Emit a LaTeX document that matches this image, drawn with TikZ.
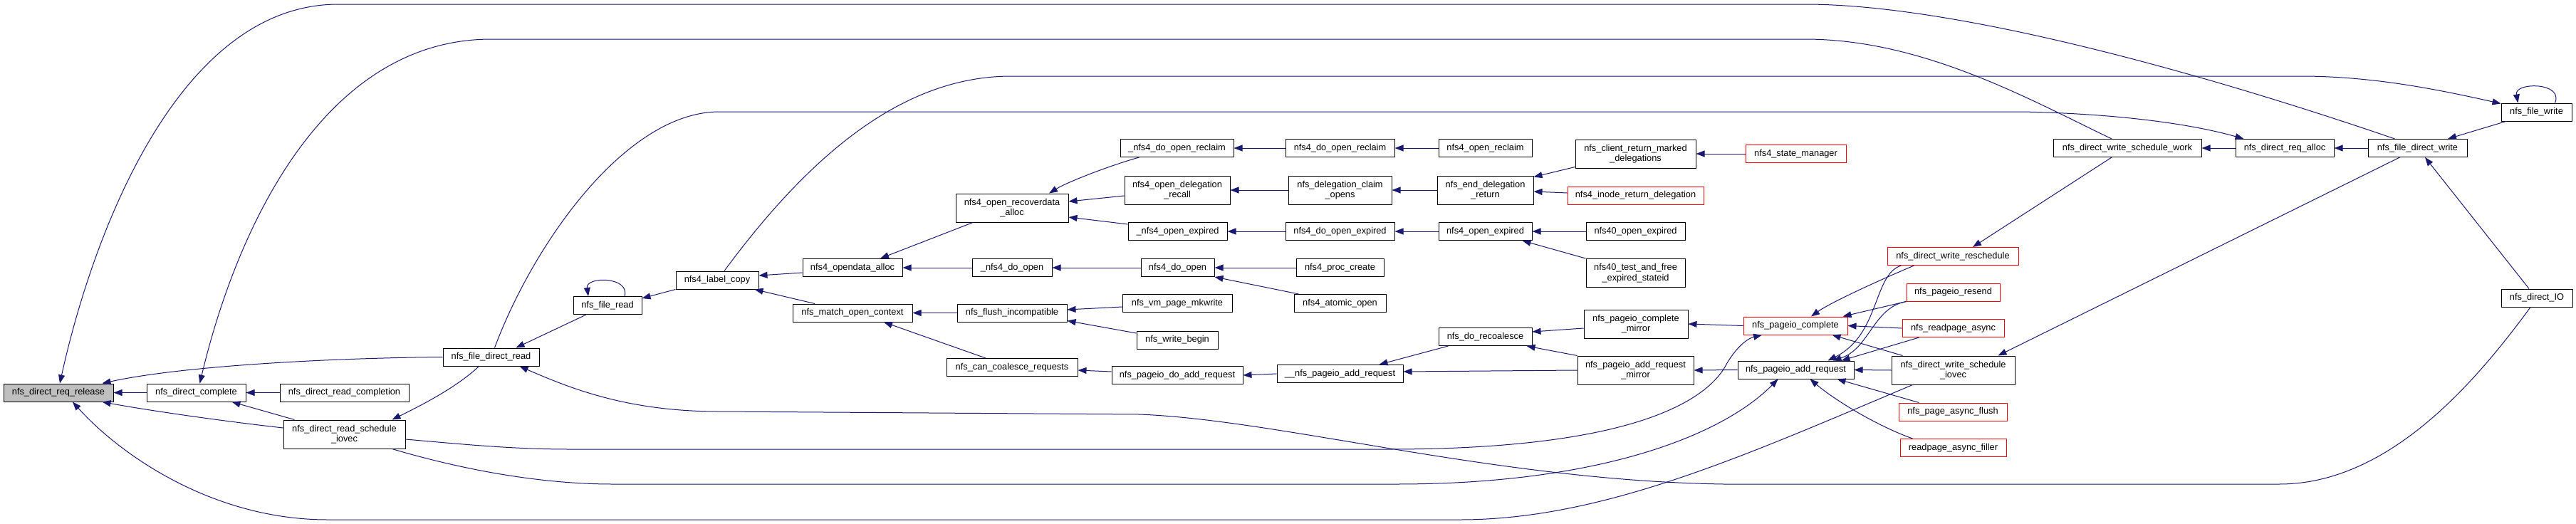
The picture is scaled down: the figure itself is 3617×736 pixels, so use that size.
\documentclass[tikz,border=0pt]{standalone}
\usepackage{fontspec}
\setmainfont{Liberation Sans}
\usetikzlibrary{arrows.meta}
\definecolor{edgeblue}{RGB}{25,25,112}
\definecolor{rootgray}{RGB}{191,191,191}
\newcommand\nodefnt{\fontsize{12.8}{14.5}\selectfont}
\tikzset{
  nd/.style={draw=black, line width=1pt, fill=white, inner sep=0pt, minimum height=25pt, align=center, font=\nodefnt},
  two/.style={minimum height=40pt},
  trunc/.style={draw=red},
  edg/.style={draw=edgeblue, line width=1pt, -{Triangle[length=12pt,width=9pt]}},
}
\begin{document}
\begin{tikzpicture}[x=1pt,y=-1pt]
\useasboundingbox[fill=white] (0,0) rectangle (3617,736);
% nodes
\node[nd, minimum width=154pt, fill=rootgray] (rel) at (82,551.5) {nfs\_direct\_req\_release};
\node[nd, minimum width=139pt] (comp) at (275.5,551.5) {nfs\_direct\_complete};
\node[nd, minimum width=181pt] (rcomp) at (483.5,551.5) {nfs\_direct\_read\_completion};
\node[nd, two, minimum width=171pt] (rsched) at (483.5,610) {nfs\_direct\_read\_schedule\\\_iovec};
\node[nd, minimum width=135pt] (fdr) at (689.5,501.5) {nfs\_file\_direct\_read};
\node[nd, minimum width=96pt] (fread) at (853,429) {nfs\_file\_read};
\node[nd, minimum width=116pt] (lcopy) at (1007,393.5) {nfs4\_label\_copy};
\node[nd, minimum width=140pt] (odalloc) at (1197,376) {nfs4\_opendata\_alloc};
\node[nd, minimum width=168pt] (moc) at (1197,439.5) {nfs\_match\_open\_context};
\node[nd, two, minimum width=158pt] (recov) at (1421,292) {nfs4\_open\_recoverdata\\\_alloc};
\node[nd, minimum width=112pt] (ndo) at (1421,376) {\_nfs4\_do\_open};
\node[nd, minimum width=154pt] (flush) at (1421,439.5) {nfs\_flush\_incompatible};
\node[nd, minimum width=184pt] (coal) at (1421,516) {nfs\_can\_coalesce\_requests};
\node[nd, minimum width=159pt] (ndor) at (1652.5,208) {\_nfs4\_do\_open\_reclaim};
\node[nd, two, minimum width=148pt] (odr) at (1653,267) {nfs4\_open\_delegation\\\_recall};
\node[nd, minimum width=139pt] (noe) at (1653.5,325) {\_nfs4\_open\_expired};
\node[nd, minimum width=103pt] (n4do) at (1653.5,376) {nfs4\_do\_open};
\node[nd, minimum width=154pt] (mkw) at (1653,426) {nfs\_vm\_page\_mkwrite};
\node[nd, minimum width=114pt] (wbeg) at (1653,477.5) {nfs\_write\_begin};
\node[nd, minimum width=184pt] (pdar) at (1653,527) {nfs\_pageio\_do\_add\_request};
\node[nd, minimum width=153pt] (n4dor) at (1881.5,208) {nfs4\_do\_open\_reclaim};
\node[nd, two, minimum width=145pt] (dco) at (1881.5,267) {nfs\_delegation\_claim\\\_opens};
\node[nd, minimum width=153pt] (n4doe) at (1881.5,325) {nfs4\_do\_open\_expired};
\node[nd, minimum width=123pt] (pc) at (1881.5,376) {nfs4\_proc\_create};
\node[nd, minimum width=129pt] (ao) at (1881.5,426) {nfs4\_atomic\_open};
\node[nd, minimum width=177pt] (npar) at (1881.5,525) {\_\_nfs\_pageio\_add\_request};
\node[nd, minimum width=131pt] (n4or) at (2085.5,208) {nfs4\_open\_reclaim};
\node[nd, two, minimum width=135pt] (edr) at (2085.5,267) {nfs\_end\_delegation\\\_return};
\node[nd, minimum width=131pt] (n4oe) at (2085.5,325) {nfs4\_open\_expired};
\node[nd, minimum width=131pt] (drc) at (2085.5,473) {nfs\_do\_recoalesce};
\node[nd, two, minimum width=169pt] (crmd) at (2296.5,216) {nfs\_client\_return\_marked\\\_delegations};
\node[nd, trunc, minimum width=191pt] (ird) at (2296.5,274.5) {nfs4\_inode\_return\_delegation};
\node[nd, minimum width=139pt] (n40oe) at (2296.5,325) {nfs40\_open\_expired};
\node[nd, two, minimum width=139pt] (tfes) at (2296.5,383.5) {nfs40\_test\_and\_free\\\_expired\_stateid};
\node[nd, two, minimum width=146pt] (pcm) at (2297,455) {nfs\_pageio\_complete\\\_mirror};
\node[nd, two, minimum width=163pt] (parm) at (2296.5,520) {nfs\_pageio\_add\_request\\\_mirror};
\node[nd, trunc, minimum width=141pt] (sm) at (2521.5,216) {nfs4\_state\_manager};
\node[nd, trunc, minimum width=146pt] (pcomp) at (2521,457.5) {nfs\_pageio\_complete};
\node[nd, minimum width=163pt] (padd) at (2521.5,519.5) {nfs\_pageio\_add\_request};
\node[nd, minimum width=208pt] (wsw) at (2987,208) {nfs\_direct\_write\_schedule\_work};
\node[nd, trunc, minimum width=184pt] (wrs) at (2742,360) {nfs\_direct\_write\_reschedule};
\node[nd, trunc, minimum width=131pt] (resend) at (2742.5,410.5) {nfs\_pageio\_resend};
\node[nd, trunc, minimum width=143pt] (rpa) at (2742.5,461) {nfs\_readpage\_async};
\node[nd, two, minimum width=173pt] (wsi) at (2742.5,520) {nfs\_direct\_write\_schedule\\\_iovec};
\node[nd, trunc, minimum width=152pt] (paf) at (2742,578.5) {nfs\_page\_async\_flush};
\node[nd, trunc, minimum width=149pt] (raf) at (2742.5,629) {readpage\_async\_filler};
\node[nd, minimum width=138pt] (alloc) at (3208,208) {nfs\_direct\_req\_alloc};
\node[nd, minimum width=139pt] (fdw) at (3394.5,208) {nfs\_file\_direct\_write};
\node[nd, minimum width=99pt] (fwrite) at (3561.5,157.5) {nfs\_file\_write};
\node[nd, minimum width=100pt] (dio) at (3562,418.5) {nfs\_direct\_IO};
% long edges
\draw[edg] ([xshift=-32pt]fdw.north) .. controls (3100,105) and (2750,6) .. (2534,6) -- (475,6) .. controls (250,6) and (130,330) .. ([xshift=2pt]rel.north);
\draw[edg] ([xshift=-22pt]wsw.north) .. controls (2850,140) and (2700,55) .. (2534,55) -- (690,55) .. controls (450,55) and (330,330) .. ([xshift=5pt]comp.north);
\draw[edg] ([xshift=10pt]lcopy.north) .. controls (1150,200) and (1280,107) .. (1420,107) -- (3230,107) .. controls (3330,107) and (3420,125) .. ([yshift=-1pt]fwrite.north west);
\draw[edg] ([xshift=5pt]fdr.north) .. controls (750,340) and (880,157) .. (1010,157) -- (2840,157) .. controls (2980,160) and (3080,175) .. ([xshift=12pt]alloc.north west);
\draw[edg] ([xshift=-9pt]dio.south) .. controls (3470,545) and (3350,680) .. (3200,680) -- (2420,680) .. controls (2100,675) and (1800,590) .. (1600,582) -- (1010,578) .. controls (880,578) and (800,545) .. ([xshift=40pt]fdr.south);
\draw[edg] ([yshift=-7pt]rsched.east) .. controls (650,624) and (720,631) .. (800,631) -- (1950,631) .. controls (2300,631) and (2400,560) .. (2425,510) .. controls (2440,485) and (2455,475) .. ([xshift=-47pt]pcomp.south);
\draw[edg] ([xshift=67pt]rsched.south) .. controls (650,660) and (760,680) .. (860,680) -- (1960,680) .. controls (2250,680) and (2420,610) .. ([xshift=-25pt]padd.south);
\draw[edg] ([xshift=30pt]wsi.south west) .. controls (2450,640) and (2250,730) .. (2050,730) -- (460,730) .. controls (300,730) and (170,640) .. ([xshift=20pt]rel.south);
\draw[edg] ([xshift=-25pt]fdw.south) -- ([xshift=63pt]wsi.north);
% self loops
\draw[edg] ([xshift=24pt]fread.north) .. controls (885,388) and (822,388) .. ([xshift=-27pt]fread.north);
\draw[edg] ([xshift=26pt]fwrite.north) .. controls (3600,115) and (3530,115) .. ([xshift=-26pt]fwrite.north);
% left part
\draw[edg] (fdr.west) .. controls (450,503) and (250,515) .. ([xshift=-16pt]rel.north east);
\draw[edg] (comp.west) -- (rel.east);
\draw[edg] ([yshift=9pt]rsched.west) .. controls (300,590) and (200,575) .. ([xshift=-16pt]rel.south east);
\draw[edg] (rcomp.west) -- (comp.east);
\draw[edg] ([xshift=-70pt]rsched.north) -- ([xshift=50pt]comp.south);
\draw[edg] ([xshift=-17pt]fdr.south) .. controls (640,545) and (590,570) .. ([xshift=67pt]rsched.north);
\draw[edg] ([xshift=-30pt]fread.south) -- ([xshift=35pt]fdr.north);
\draw[edg] (lcopy.south west) -- ([yshift=-3pt]fread.north east);
\draw[edg] ([yshift=-7pt]odalloc.west) -- ([yshift=6.5pt]lcopy.east);
\draw[edg] ([xshift=-53pt]moc.north) -- ([xshift=-6pt]lcopy.south east);
\draw[edg] ([xshift=-55pt]recov.south) -- ([xshift=39pt]odalloc.north);
\draw[edg] (ndo.west) -- (odalloc.east);
\draw[edg] (flush.west) -- (moc.east);
\draw[edg] ([xshift=-37pt]coal.north) -- ([xshift=44pt]moc.south);
\draw[edg] ([xshift=27pt]ndor.south west) .. controls (1560,232) and (1500,255) .. ([xshift=52pt]recov.north);
\draw[edg] ([yshift=-8pt]odr.west) -- ([yshift=9pt]recov.east);
\draw[edg] ([yshift=10pt]noe.west) -- ([yshift=-13pt]recov.east);
\draw[edg] (n4do.west) -- (ndo.east);
\draw[edg] ([yshift=-5pt]mkw.west) -- ([yshift=4.5pt]flush.east);
\draw[edg] ([yshift=9.5pt]wbeg.west) -- ([yshift=-11pt]flush.east);
\draw[edg] ([yshift=5pt]pdar.west) -- ([yshift=-4pt]coal.east);
% middle
\draw[edg] (n4dor.west) -- (ndor.east);
\draw[edg] (n4or.west) -- (n4dor.east);
\draw[edg] (dco.west) -- (odr.east);
\draw[edg] (edr.west) -- (dco.east);
\draw[edg] ([yshift=2pt]crmd.south west) -- ([yshift=-2pt]edr.north east);
\draw[edg] ([yshift=3.5pt]ird.west) -- ([yshift=-2pt]edr.east);
\draw[edg] (sm.west) -- (crmd.east);
\draw[edg] (n4doe.west) -- (noe.east);
\draw[edg] (n4oe.west) -- (n4doe.east);
\draw[edg] (n40oe.west) -- (n4oe.east);
\draw[edg] (tfes.north west) -- ([xshift=-14pt]n4oe.south east);
\draw[edg] (pc.west) -- (n4do.east);
\draw[edg] ([xshift=7pt]ao.north west) -- (n4do.south east);
\draw[edg] (npar.west) -- (pdar.east);
\draw[edg] ([xshift=14pt]drc.south west) -- ([xshift=55pt]npar.north);
\draw[edg] (parm.west) -- ([yshift=3pt]npar.east);
\draw[edg] ([yshift=-6pt]pcm.west) -- ([yshift=7pt]drc.east);
\draw[edg] (parm.north west) -- ([xshift=-8pt]drc.south east);
\draw[edg] (pcomp.west) -- (pcm.east);
\draw[edg] (padd.west) -- (parm.east);
% right part
\draw[edg] (alloc.west) -- (wsw.east);
\draw[edg] (fdw.west) -- (alloc.east);
\draw[edg] ([xshift=7pt]fwrite.south west) -- ([xshift=42.5pt]fdw.north);
\draw[edg] ([xshift=-11pt]dio.north) -- ([xshift=10.5pt]fdw.south);
\draw[edg] ([xshift=-22pt]wsw.south) -- ([xshift=28pt]wrs.north);
\draw[edg] ([xshift=38pt]wrs.south west) .. controls (2640,393) and (2570,425) .. ([xshift=22pt]pcomp.north);
\draw[edg] (resend.south west) -- ([xshift=-7pt]pcomp.north east);
\draw[edg] (rpa.west) -- (pcomp.east);
\draw[edg] ([xshift=16pt]wsi.north west) -- ([xshift=-22pt]pcomp.south east);
\draw[edg] ([xshift=20pt]wrs.south west) .. controls (2630,385) and (2640,470) .. ([xshift=45pt]padd.north);
\draw[edg] (resend.south west) .. controls (2630,432) and (2625,490) .. ([xshift=52pt]padd.north);
\draw[edg] ([xshift=24pt]rpa.south west) -- ([xshift=-18pt]padd.north east);
\draw[edg] (wsi.west) -- (padd.east);
\draw[edg] ([xshift=29pt]paf.north west) -- ([xshift=-24pt]padd.south east);
\draw[edg] ([xshift=18pt]raf.north west) .. controls (2640,600) and (2580,565) .. ([xshift=20pt]padd.south);
\end{tikzpicture}
\end{document}
